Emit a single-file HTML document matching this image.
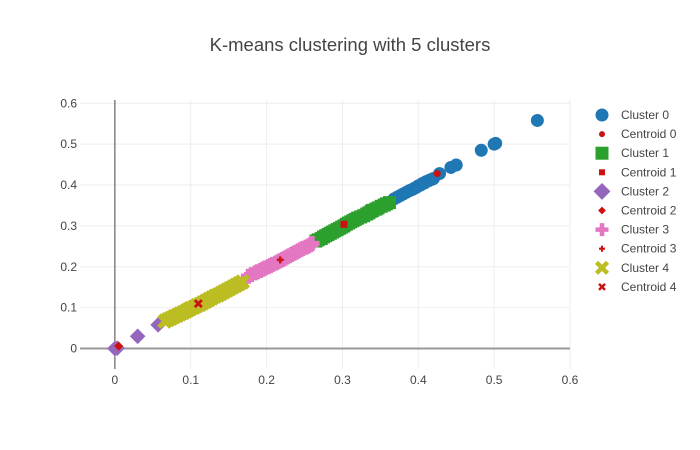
<!DOCTYPE html>
<html><head><meta charset="utf-8"><style>
html,body{margin:0;padding:0;background:#fff;}
svg{display:block;font-family:"Liberation Sans",sans-serif;}
</style></head><body>
<svg id="chart" width="700" height="450" xmlns="http://www.w3.org/2000/svg">
<rect width="700" height="450" fill="#fff"/>
<text x="350" y="51" text-anchor="middle" font-size="18.5" fill="#444">K-means clustering with 5 clusters</text>
<g id="grid"></g>
<g id="marks"></g>
<g id="legend"></g>
</svg>
<script>
const xTicks=[0,0.1,0.2,0.3,0.4,0.5,0.6];
const yTicks=[0,0.1,0.2,0.3,0.4,0.5,0.6];
const c0x=[0.368,0.372,0.376,0.38,0.384,0.388,0.392,0.395,0.398,0.4,0.403,0.405,0.408,0.41,0.413,0.415,0.418,0.42,0.428,0.443,0.45,0.483,0.5,0.502,0.557];
const c0y=[0.366,0.37,0.374,0.378,0.382,0.386,0.389,0.392,0.395,0.398,0.4,0.403,0.405,0.408,0.41,0.412,0.414,0.416,0.428,0.443,0.449,0.485,0.5,0.502,0.558];
const c1x=[0.265,0.268,0.272,0.275,0.278,0.281,0.284,0.287,0.29,0.293,0.296,0.299,0.302,0.305,0.308,0.311,0.314,0.317,0.32,0.324,0.328,0.332,0.335,0.338,0.34,0.344,0.347,0.351,0.355,0.358,0.362];
const c1y=[0.263,0.266,0.269,0.273,0.276,0.279,0.282,0.285,0.288,0.291,0.294,0.297,0.3,0.304,0.307,0.31,0.313,0.316,0.319,0.322,0.325,0.329,0.332,0.336,0.338,0.341,0.344,0.348,0.351,0.354,0.357];
const c2x=[0,0.003,0.03,0.057];
const c2y=[0,0.001,0.03,0.058];
const c3x=[0.176,0.18,0.185,0.188,0.192,0.195,0.198,0.202,0.205,0.208,0.212,0.215,0.218,0.221,0.224,0.227,0.23,0.233,0.236,0.239,0.242,0.245,0.248,0.252,0.255,0.258,0.26];
const c3y=[0.177,0.181,0.185,0.188,0.191,0.194,0.197,0.2,0.203,0.206,0.209,0.212,0.215,0.218,0.221,0.224,0.227,0.23,0.233,0.236,0.239,0.242,0.245,0.248,0.251,0.254,0.257];
const c4x=[0.066,0.07,0.074,0.078,0.082,0.086,0.09,0.094,0.097,0.1,0.104,0.108,0.112,0.116,0.12,0.124,0.128,0.132,0.136,0.14,0.144,0.148,0.152,0.156,0.16,0.164,0.168];
const c4y=[0.067,0.071,0.074,0.078,0.081,0.085,0.088,0.092,0.095,0.098,0.101,0.105,0.108,0.112,0.116,0.12,0.124,0.128,0.131,0.135,0.139,0.143,0.147,0.151,0.155,0.159,0.163];
const centX=[0.425,0.302,0.005,0.218,0.11];
const centY=[0.428,0.304,0.006,0.217,0.11];
const legendLabels=["Cluster 0","Centroid 0","Cluster 1","Centroid 1","Cluster 2","Centroid 2","Cluster 3","Centroid 3","Cluster 4","Centroid 4"];
const NS="http://www.w3.org/2000/svg";
const X0=80,X1=570,Y0=100,Y1=369,xmin=-0.046,xmax=0.6,ymin=-0.05,ymax=0.608;
function sx(v){return X0+(v-xmin)/(xmax-xmin)*(X1-X0);}
function sy(v){return Y1-(v-ymin)/(ymax-ymin)*(Y1-Y0);}
function mk(t,a,p){const e=document.createElementNS(NS,t);for(const k in a)e.setAttribute(k,a[k]);p.appendChild(e);return e;}
const grid=document.getElementById('grid'),marks=document.getElementById('marks'),leg=document.getElementById('legend');
xTicks.forEach(t=>{
  if(t!==0){const l=mk('line',{x1:sx(t),x2:sx(t),y1:Y0,y2:Y1,stroke:'#eee','stroke-width':1},grid);
  
  }
  const tx=mk('text',{x:sx(t),y:384,'text-anchor':'middle','font-size':12,fill:'#444'},grid);tx.textContent=String(t);
  
  
});
yTicks.forEach(t=>{
  if(t!==0){const l=mk('line',{x1:X0,x2:X1,y1:sy(t),y2:sy(t),stroke:'#eee','stroke-width':1},grid);
  
  }
  const tx=mk('text',{x:77,y:sy(t)+4,'text-anchor':'end','font-size':12,fill:'#444'},grid);tx.textContent=String(t);
  
  
});
const za=mk('line',{x1:sx(0),x2:sx(0),y1:Y0,y2:Y1,stroke:'#444','stroke-width':1},grid);


const zb=mk('line',{x1:X0,x2:X1,y1:sy(0),y2:sy(0),stroke:'#999','stroke-width':2},grid);


function sym(kind,x,y,r,color,parent){
  let e;
  if(kind==='circle')e=mk('circle',{cx:x,cy:y,r:r,fill:color},parent);
  else if(kind==='square')e=mk('rect',{x:x-r,y:y-r,width:2*r,height:2*r,fill:color},parent);
  else if(kind==='diamond')e=mk('path',{d:`M${x-r*1.3},${y}L${x},${y-r*1.3}L${x+r*1.3},${y}L${x},${y+r*1.3}Z`,fill:color},parent);
  else if(kind==='cross'){const w=r*0.7;e=mk('path',{d:`M${x-w/2},${y-r}h${w}v${r-w/2}h${r-w/2}v${w}h${-(r-w/2)}v${r-w/2}h${-w}v${-(r-w/2)}h${-(r-w/2)}v${-w}h${r-w/2}Z`,fill:color},parent);}
  else {e=mk('path',{d:`M${x-r},${y-r}L${x+r},${y+r}M${x+r},${y-r}L${x-r},${y+r}`,stroke:color,'stroke-width':r*0.8,fill:'none'},parent);}
  return e;
}
const series=[[c0x,c0y,'circle','#1f77b4',6.5],[c1x,c1y,'square','#2ca02c',6.5],[c2x,c2y,'diamond','#9467bd',6],[c3x,c3y,'cross','#e377c2',7.5],[c4x,c4y,'x','#bcbd22',6]];
const centKinds=['circle','square','diamond','cross','x'];
series.forEach((s,i)=>{
  s[0].forEach((v,j)=>{
    const e=sym(s[2],sx(v),sy(s[1][j]),s[4],s[3],marks);
    
    
  });
});
centX.forEach((v,i)=>{
  const e=sym(centKinds[i],sx(v),sy(centY[i]),i===0?3.5:3.5,'#cc1111',marks);
  
  
});
legendLabels.forEach((lab,i)=>{
  const y=115+i*19.1;
  const c=i%2===1, k=Math.floor(i/2);
  const e=sym(centKinds[k],602,y,c?3:(k===4?5.5:6.5),c?'#cc1111':series[k][3],leg);
  
  
  const t=mk('text',{x:621,y:y+4,'font-size':12,fill:'#444'},leg);t.textContent=lab;
  
  
});
</script>
</body></html>
